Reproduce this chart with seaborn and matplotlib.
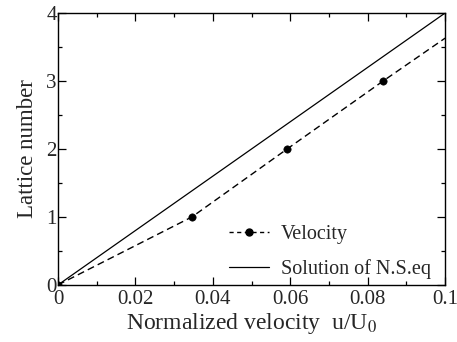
import numpy as np
import pandas as pd
import matplotlib
matplotlib.use("Agg")
import matplotlib.pyplot as plt
import seaborn as sns
from matplotlib.ticker import MultipleLocator, FuncFormatter

# data
vel_u = [0.0, 0.0346, 0.0592, 0.084]
vel_n = [0.0, 1.0, 2.0, 3.0]
vel_line_u = [0.0, 0.0346, 0.0592, 0.084, 0.1]
vel_line_n = [0.0, 1.0, 2.0, 3.0, 3.63]
ns_u = [0.0, 0.1]
ns_n = [0.0, 4.0]

sns.set_theme(style="ticks")
plt.rcParams['font.family'] = ['Liberation Serif', 'DejaVu Serif']
plt.rcParams['mathtext.fontset'] = 'stix'

fig, ax = plt.subplots(figsize=(4.57, 3.42), dpi=100)

sns.lineplot(x=vel_line_u, y=vel_line_n, ax=ax, color='black', lw=1.0,
             linestyle=(0, (5, 3)), label='_nolegend_')
sns.scatterplot(x=vel_u, y=vel_n, ax=ax, color='black', s=28, edgecolor='black', zorder=3)
sns.lineplot(x=ns_u, y=ns_n, ax=ax, color='black', lw=0.9, label='_nolegend_')

# legend proxies
h1, = ax.plot([], [], color='black', lw=1.0, linestyle=(0, (3, 2.5)), marker='o', ms=5)
h2, = ax.plot([], [], color='black', lw=0.9)
ax.legend([h1, h2], ['Velocity', 'Solution of N.S.eq'], loc='lower right',
          frameon=False, fontsize=14.5, handlelength=2.0, handletextpad=0.6,
          labelspacing=0.75, bbox_to_anchor=(1.01, -0.045))

ax.set_xlim(0, 0.1)
ax.set_ylim(0, 4)
ax.xaxis.set_major_locator(MultipleLocator(0.02))
ax.xaxis.set_minor_locator(MultipleLocator(0.01))
ax.yaxis.set_major_locator(MultipleLocator(1))
ax.yaxis.set_minor_locator(MultipleLocator(0.5))
ax.xaxis.set_major_formatter(FuncFormatter(lambda v, p: '0' if abs(v) < 1e-9 else f'{v:.2f}'.rstrip('0')))
ax.yaxis.set_major_formatter(FuncFormatter(lambda v, p: f'{v:.0f}'))
ax.tick_params(which='both', direction='in', top=True, right=True, labelsize=15,
               color='black', width=0.9)
ax.tick_params(which='major', length=6, pad=1)
ax.tick_params(axis='x', which='major', pad=4)
ax.tick_params(which='minor', length=3)
for s in ax.spines.values():
    s.set_visible(True)
    s.set_color('black')
    s.set_linewidth(1.0)

ax.set_xlabel('Normalized velocity  u/U$_0$', fontsize=17, labelpad=1)
ax.set_ylabel('Lattice number', fontsize=16.5, labelpad=6)

fig.subplots_adjust(left=0.127, right=0.974, top=0.962, bottom=0.167)
fig.savefig('out.png', dpi=100)
